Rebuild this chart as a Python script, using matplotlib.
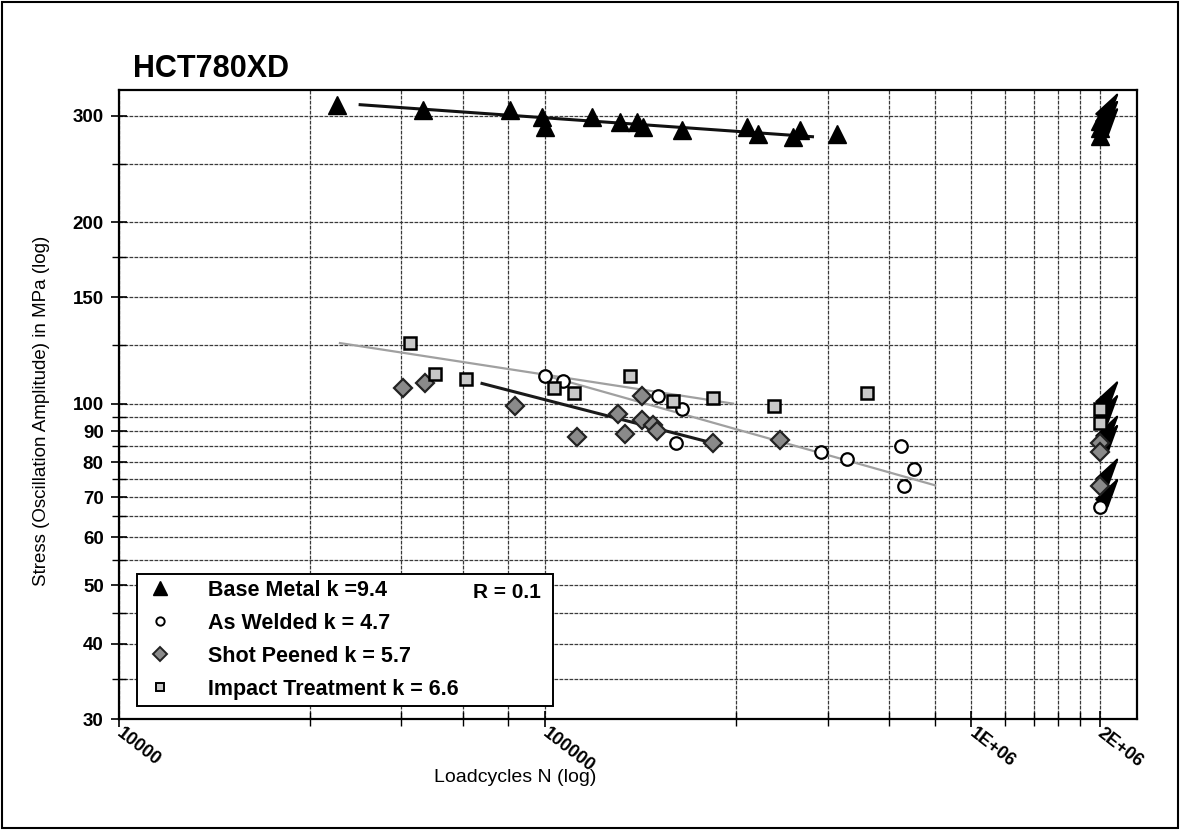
import matplotlib
matplotlib.use('Agg')
import matplotlib.pyplot as plt
from matplotlib.lines import Line2D
from matplotlib.patches import Rectangle
from matplotlib.ticker import FixedLocator, NullFormatter, FixedFormatter
from matplotlib.transforms import offset_copy

plt.rcParams['font.family'] = ['Liberation Sans', 'DejaVu Sans']

# --- data (N = load cycles, S = stress amplitude in MPa) ---
base_N = [32500, 51800, 82800, 98400, 100000, 128800, 150000, 164000, 170000,
          210000, 298000, 316000, 382000, 397000, 484000]
base_S = [313, 307, 307, 299, 287, 299, 293, 293, 287, 284, 287, 280, 277, 284, 280]
base_runout_S = [278, 286, 294]

welded_N = [100000, 110000, 184000, 210000, 203000, 445000, 512000, 685000, 735000, 697000]
welded_S = [111, 109, 103, 98, 86, 83, 81, 85, 78, 73]
welded_runout_S = [67.5]

peened_N = [46400, 52200, 85100, 119000, 148000, 154000, 169000, 169000, 179000,
            183000, 248000, 356000]
peened_S = [106, 108, 99, 88, 96, 89, 103, 94, 92, 90, 86, 87]
peened_runout_S = [86, 83, 73]

impact_N = [48200, 55200, 65300, 105000, 117000, 158000, 200000, 248000, 345000, 570000]
impact_S = [126, 112, 110, 106, 104, 111, 101, 102, 99, 104]
impact_runout_S = [98, 93]

runout_N = 2000000

# regression lines (end points)
base_fit_N = [36800, 424000]
base_fit_S = [313, 277]
welded_fit_N = [100000, 823000]
welded_fit_S = [111.4, 73.2]
peened_fit_N = [71100, 248000]
peened_fit_S = [108, 86]
impact_fit_N = [33000, 276000]
impact_fit_S = [126, 100]

legend_labels = ['Base Metal k =9.4', 'As Welded k = 4.7',
                 'Shot Peened k = 5.7', 'Impact Treatment k = 6.6']

y_major = [30, 40, 50, 60, 70, 80, 90, 100, 150, 200, 300]
y_minor = [35, 45, 55, 65, 75, 85, 95, 125, 175, 250]
x_major = [10000, 100000, 1000000, 2000000]
x_major_labels = ['10000', '100000', '1E+06', '2E+06']
x_minor = [28000, 46000, 64000, 82000, 280000, 460000, 640000, 820000,
           1200000, 1400000, 1600000, 1800000]

fig = plt.figure(figsize=(11.82, 8.30), dpi=100)
ax = fig.add_axes([0.1007, 0.1337, 0.8613, 0.7578])
ax.set_xscale('log')
ax.set_yscale('log')
ax.set_xlim(10000, 2450000)
ax.set_ylim(30, 331)

# grid on every tick
gridkw = dict(color='#3a3a3a', lw=0.9, linestyle=(0, (3, 1.0)), zorder=1)
for y in y_major + y_minor:
    ax.axhline(y, **gridkw)
for x in x_major + x_minor:
    ax.axvline(x, **gridkw)

# fit lines
ax.plot(impact_fit_N, impact_fit_S, color='#a0a0a0', lw=1.6, zorder=2)
ax.plot(welded_fit_N, welded_fit_S, color='#a0a0a0', lw=1.6, zorder=2)
ax.plot(peened_fit_N, peened_fit_S, color='#1a1a1a', lw=2.2, zorder=2)
ax.plot(base_fit_N, base_fit_S, color='#111111', lw=2.2, zorder=2)

tri = dict(marker='^', ms=13, mfc='black', mec='black', ls='none', zorder=4)
circ = dict(marker='o', ms=9, mfc='white', mec='black', mew=1.6, ls='none', zorder=4)
dia = dict(marker='D', ms=9, mfc='#8a8a8a', mec='#222222', mew=1.6, ls='none', zorder=4)
sq = dict(marker='s', ms=8, mfc='#c8c8c8', mec='black', mew=1.8, ls='none', zorder=4)

ax.plot(base_N, base_S, **tri)
ax.plot(welded_N, welded_S, **circ)
ax.plot(peened_N, peened_S, **dia)
ax.plot(impact_N, impact_S, **sq)

# run-outs with arrows
head = offset_copy(ax.transData, fig=fig, x=20, y=30, units='dots')
arrowkw = dict(arrowstyle='-|>,head_length=0.9,head_width=0.22', color='black',
               lw=1.5, mutation_scale=22, shrinkA=0, shrinkB=0)
for vals, style in [(base_runout_S, tri), (impact_runout_S, sq),
                    (peened_runout_S, dia), (welded_runout_S, circ)]:
    for s in vals:
        ax.annotate('', xy=(runout_N, s), xycoords=head,
                    xytext=(runout_N, s), textcoords='data',
                    arrowprops=arrowkw, zorder=3)
        ax.plot([runout_N], [s], **style)

# ticks
ax.yaxis.set_major_locator(FixedLocator(y_major))
ax.yaxis.set_minor_locator(FixedLocator(y_minor))
ax.yaxis.set_major_formatter(FixedFormatter([str(v) for v in y_major]))
ax.yaxis.set_minor_formatter(NullFormatter())
ax.xaxis.set_major_locator(FixedLocator(x_major))
ax.xaxis.set_minor_locator(FixedLocator(x_minor))
ax.xaxis.set_major_formatter(FixedFormatter(x_major_labels))
ax.xaxis.set_minor_formatter(NullFormatter())
ax.tick_params(which='major', direction='inout', length=12, width=1.2, labelsize=13.5)
ax.tick_params(axis='y', which='major', pad=5)
ax.tick_params(axis='x', which='major', pad=3)
ax.tick_params(which='minor', direction='inout', length=10, width=1.0)
for lab in ax.get_yticklabels():
    lab.set_fontweight('bold')
for lab in ax.get_xticklabels():
    lab.set_fontweight('bold')
    lab.set_rotation(-38)
    lab.set_ha('left')
    lab.set_va('center')
    lab.set_rotation_mode('anchor')
    lab.set_fontsize(13)

for sp in ax.spines.values():
    sp.set_linewidth(1.6)
    sp.set_color('black')

ax.set_xlabel('Loadcycles N (log)', fontsize=14)
ax.xaxis.set_label_coords(0.389, -0.08)
ax.set_ylabel('Stress (Oscillation Amplitude) in MPa (log)', fontsize=13.5)
ax.yaxis.set_label_coords(-0.068, 0.49)

# legend
handles = [
    Line2D([], [], marker='^', ms=10, mfc='black', mec='black', ls='none'),
    Line2D([], [], marker='o', ms=6, mfc='white', mec='black', mew=1.4, ls='none'),
    Line2D([], [], marker='D', ms=7, mfc='#8a8a8a', mec='#222222', mew=1.4, ls='none'),
    Line2D([], [], marker='s', ms=6, mfc='#c8c8c8', mec='black', mew=1.4, ls='none'),
]
leg = ax.legend(handles, legend_labels, loc='lower left',
                bbox_to_anchor=(0.0177, 0.0207, 0.409, 0.21), mode='expand',
                borderaxespad=0, borderpad=0.3, handlelength=1.53, handletextpad=1.46,
                labelspacing=0.55, fancybox=False, framealpha=1,
                prop={'size': 15.5, 'weight': 'bold'})
leg.get_frame().set_edgecolor('black')
leg.get_frame().set_linewidth(1.4)
leg.set_zorder(6)
ax.text(0.4145, 0.2019, 'R = 0.1', transform=ax.transAxes, ha='right', va='center',
        fontsize=15, fontweight='bold', zorder=7)

fig.text(133 / 1182, 1 - 77 / 830, 'HCT780XD', fontsize=22, fontweight='bold',
         ha='left', va='baseline')
fig.patches.append(Rectangle((0.002, 0.003), 0.995, 0.994, transform=fig.transFigure,
                             fill=False, edgecolor='black', lw=1.5))

fig.savefig('out.png', dpi=100)
